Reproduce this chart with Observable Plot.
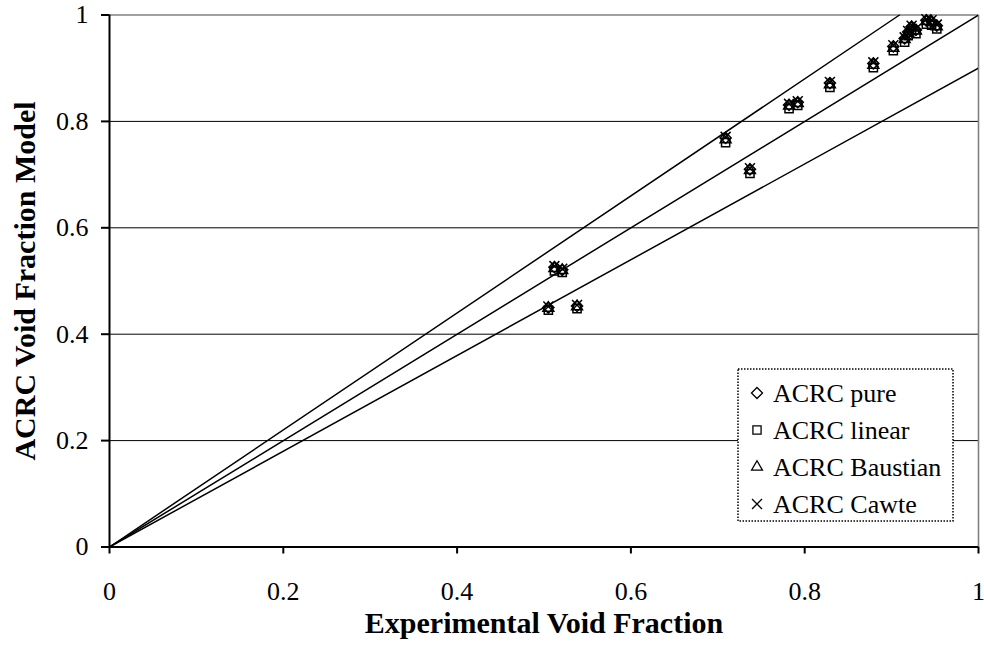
<!DOCTYPE html>
<html><head><meta charset="utf-8">
<script src="https://cdn.jsdelivr.net/npm/d3@7"></script>
<script src="https://cdn.jsdelivr.net/npm/@observablehq/plot@0.6"></script>
<style>body{margin:0;background:#fff}</style>
</head><body><div id="chart"></div>
<script>
// Experimental void fraction (x) and model predictions per series (y)
const expVoid  = [0.505, 0.538, 0.512, 0.521, 0.709, 0.737, 0.782, 0.792, 0.829, 0.879, 0.902, 0.915, 0.919, 0.923, 0.928, 0.940, 0.946, 0.952];
const acrcPure     = [0.450, 0.453, 0.526, 0.521, 0.769, 0.710, 0.831, 0.836, 0.872, 0.909, 0.941, 0.956, 0.968, 0.978, 0.972, 0.990, 0.988, 0.980];
const acrcLinear   = [0.445, 0.448, 0.519, 0.516, 0.760, 0.702, 0.824, 0.830, 0.864, 0.901, 0.933, 0.949, 0.961, 0.971, 0.965, 0.983, 0.981, 0.974];
const acrcBaustian = [0.449, 0.452, 0.524, 0.520, 0.766, 0.708, 0.829, 0.834, 0.869, 0.906, 0.938, 0.954, 0.966, 0.976, 0.970, 0.988, 0.986, 0.978];
const acrcCawte    = [0.452, 0.455, 0.528, 0.523, 0.771, 0.712, 0.833, 0.838, 0.874, 0.911, 0.943, 0.958, 0.970, 0.980, 0.974, 0.992, 0.990, 0.982];

const seriesNames = ["ACRC pure", "ACRC linear", "ACRC Baustian", "ACRC Cawte"];
const seriesValues = [acrcPure, acrcLinear, acrcBaustian, acrcCawte];
const seriesSymbols = ["diamond2", "square2", "triangle2", "times"];
const seriesR = [5.0, 5.2, 5.2, 4.6];

// Reference lines through the origin: +10%, perfect agreement, -10%
const refSlopes = [1.1, 1.0, 0.9];

const xTicks = [0, 0.2, 0.4, 0.6, 0.8, 1];
const yTicks = [0, 0.2, 0.4, 0.6, 0.8, 1];
const gridY = [0.2, 0.4, 0.6, 0.8];

const xTitle = "Experimental Void Fraction";
const yTitle = "ACRC Void Fraction Model";

const fmt = d => String(+d.toFixed(1));

const refData = refSlopes.flatMap(k => [
  {k, x: 0, y: 0},
  {k, x: Math.min(1, 1 / k), y: Math.min(1, k)}
]);

const dotMarks = seriesValues.map((vals, i) =>
  Plot.dot(expVoid.map((x, j) => ({x, y: vals[j]})), {
    x: "x", y: "y", symbol: () => seriesSymbols[i], r: seriesR[i],
    stroke: "black", strokeWidth: 1.5, fill: "none"
  })
);

const font = "'Liberation Serif', 'Times New Roman', serif";

const svg = Plot.plot({
  width: 984, height: 657,
  marginLeft: 109, marginRight: 6, marginTop: 14.5, marginBottom: 110.5,
  style: {fontFamily: font, background: "white", color: "black"},
  x: {domain: [0, 1], label: null},
  y: {domain: [0, 1], label: null},
  symbol: {type: "identity"},
  marks: [
    Plot.ruleY(gridY, {stroke: "black", strokeWidth: 1}),
    Plot.ruleY([1], {stroke: "#808080", strokeWidth: 1.6}),
    Plot.ruleX([1], {stroke: "#808080", strokeWidth: 1.6}),
    Plot.line(refData, {x: "x", y: "y", z: "k", stroke: "black", strokeWidth: 1.5, clip: true}),
    ...dotMarks,
    Plot.ruleX([0], {stroke: "black", strokeWidth: 2}),
    Plot.ruleY([0], {stroke: "black", strokeWidth: 2}),
    Plot.axisX({ticks: xTicks, tickFormat: fmt, tickSize: 7, tickPadding: 28, fontSize: 26, strokeWidth: 2, label: null}),
    Plot.axisY({ticks: yTicks, tickFormat: fmt, tickSize: 8, tickPadding: 13, fontSize: 26, strokeWidth: 2, label: null}),
    Plot.text([xTitle], {frameAnchor: "bottom", lineAnchor: "middle", textAnchor: "middle", dy: 76, fontSize: 30, fontWeight: "bold", text: d => d}),
    Plot.text([yTitle], {frameAnchor: "left", lineAnchor: "middle", textAnchor: "middle", dx: -84, rotate: -90, fontSize: 30, fontWeight: "bold", text: d => d})
  ]
});

// Legend box (dotted border, white background)
const lg = d3.select(svg).append("g").attr("transform", "translate(738,369)");
lg.append("rect").attr("width", 215).attr("height", 152)
  .attr("fill", "white").attr("stroke", "black").attr("stroke-width", 1.5)
  .attr("stroke-dasharray", "1.5,1.5");
const d3Sym = {diamond2: d3.symbolDiamond2, square2: d3.symbolSquare2, triangle2: d3.symbolTriangle2, times: d3.symbolTimes};
seriesNames.forEach((name, i) => {
  const row = lg.append("g").attr("transform", `translate(0,${24 + i * 37})`);
  row.append("path")
    .attr("transform", "translate(19,0)")
    .attr("d", d3.symbol(d3Sym[seriesSymbols[i]], Math.PI * seriesR[i] * seriesR[i])())
    .attr("fill", "none").attr("stroke", "black").attr("stroke-width", 1.3);
  row.append("text").attr("x", 35).attr("y", 9)
    .attr("text-anchor", "start")
    .attr("font-family", font).attr("font-size", 26).attr("fill", "black")
    .text(name);
});

document.getElementById("chart").appendChild(svg);
</script></body></html>
